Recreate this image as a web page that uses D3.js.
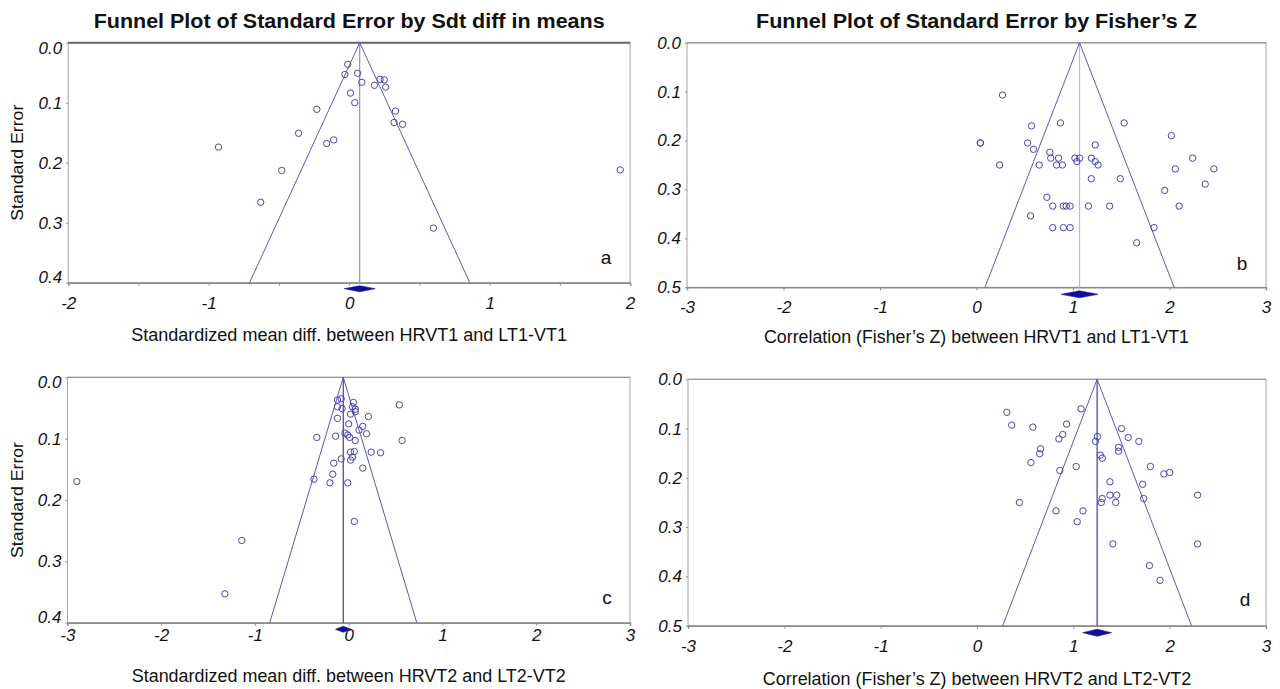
<!DOCTYPE html>
<html>
<head>
<meta charset="utf-8">
<title>Funnel plots</title>
<script src="https://d3js.org/d3.v7.min.js"></script>
<style>
  body { margin: 0; background: #fff; }
  text { font-family: "Liberation Sans", Arial, sans-serif; }
</style>
</head>
<body>
<div class="chart"></div>
<script>
// a: standardized mean diff between HRVT1 and LT1-VT1
let aEffect = [-0.01, -0.03, 0.06, 0.09, 0.22, 0.25, 0.18, 0.26, 0.01, 0.04, -0.23, 0.33, 0.32, 0.38,
               -0.36, -0.11, -0.16, -0.48, -0.93, 1.93, -0.63, 0.60];
let aSE = [0.036, 0.053, 0.051, 0.066, 0.061, 0.062, 0.071, 0.074, 0.084, 0.100, 0.111, 0.114, 0.133, 0.136,
           0.151, 0.162, 0.168, 0.213, 0.174, 0.212, 0.266, 0.309];

// b: Fisher's Z between HRVT1 and LT1-VT1
let bEffect = [0.27, 0.57, 0.87, 1.53, 2.02, 0.04, 0.04, 0.53, 0.59, 1.23, 0.76, 0.77, 0.85, 1.02, 1.07, 1.04,
               1.19, 1.23, 1.26, 2.24, 0.24, 0.65, 0.83, 0.89, 2.06, 2.46, 1.19, 1.49, 2.37, 1.95,
               0.73, 0.79, 0.90, 0.93, 0.97, 1.16, 1.38, 2.10, 0.56, 0.79, 0.90, 0.97, 1.84, 1.66];
let bSE = [0.107, 0.170, 0.164, 0.164, 0.190, 0.205, 0.205, 0.205, 0.218, 0.209, 0.224, 0.236, 0.236, 0.236, 0.236, 0.243,
           0.236, 0.243, 0.250, 0.236, 0.250, 0.250, 0.250, 0.250, 0.258, 0.258, 0.278, 0.278, 0.289, 0.302,
           0.316, 0.334, 0.334, 0.334, 0.334, 0.334, 0.334, 0.334, 0.354, 0.378, 0.378, 0.378, 0.378, 0.409];

// c: standardized mean diff between HRVT2 and LT2-VT2
let cEffect = [-0.12, -0.08, -0.12, -0.07, 0.05, 0.04, 0.07, 0.07, 0.02, 0.54, 0.21, -0.12, 0.00, 0.15,
               0.11, 0.19, -0.04, -0.14, -0.34, -0.01, 0.01, 0.07, 0.57, 0.24, 0.34, 0.02, 0.06, 0.04,
               0.02, -0.08, -0.16, 0.15, -0.17, -0.37, -0.20, -0.01, 0.06, -2.90, -1.14, -1.32];
let cSE = [0.037, 0.035, 0.048, 0.051, 0.041, 0.048, 0.052, 0.056, 0.060, 0.045, 0.064, 0.067, 0.076, 0.080,
           0.086, 0.092, 0.091, 0.096, 0.098, 0.094, 0.098, 0.103, 0.103, 0.122, 0.123, 0.122, 0.121, 0.130,
           0.135, 0.133, 0.140, 0.148, 0.158, 0.166, 0.172, 0.172, 0.235, 0.170, 0.266, 0.353];

// d: Fisher's Z between HRVT2 and LT2-VT2
let dEffect = [0.31, 1.08, 0.36, 0.58, 0.93, 0.89, 0.85, 1.25, 1.23, 1.50, 1.57, 1.68, 0.66, 0.65, 1.47, 1.47,
               0.56, 1.28, 1.30, 1.03, 0.86, 1.80, 1.94, 2.00, 1.38, 1.72, 2.29, 1.38, 1.45, 1.30, 1.73,
               1.29, 1.44, 0.44, 0.82, 1.10, 1.04, 1.41, 2.29, 1.79, 1.90];
let dSE = [0.067, 0.060, 0.093, 0.097, 0.091, 0.112, 0.121, 0.116, 0.126, 0.100, 0.118, 0.126, 0.141, 0.151, 0.138, 0.146,
           0.169, 0.154, 0.160, 0.177, 0.185, 0.177, 0.192, 0.189, 0.208, 0.213, 0.235, 0.235, 0.235, 0.242, 0.242,
           0.250, 0.250, 0.250, 0.267, 0.267, 0.289, 0.334, 0.334, 0.378, 0.408];

// pooled estimate and its half-width (diamond) for each panel
let pooled = [0.075, 1.068, -0.058, 1.247];
let pooledHalf = [0.11, 0.19, 0.083, 0.15];

let titles = ["Funnel Plot of Standard Error by Sdt diff in means", "Funnel Plot of Standard Error by Fisher\u2019s Z"];
let xTitles = ["Standardized mean diff. between HRVT1 and LT1-VT1",
               "Correlation (Fisher\u2019s Z) between HRVT1 and LT1-VT1",
               "Standardized mean diff. between HRVT2 and LT2-VT2",
               "Correlation (Fisher\u2019s Z) between HRVT2 and LT2-VT2"];
let letters = ["a", "b", "c", "d"];
let xTicksA = [-2, -1, 0, 1, 2];
let xTicks = [-3, -2, -1, 0, 1, 2, 3];
let yTicks4 = [0, 0.1, 0.2, 0.3, 0.4];
let yTicks5 = [0, 0.1, 0.2, 0.3, 0.4, 0.5];

let width = 1280, height = 689;
let svg = d3.select(".chart").append("svg")
    .attr("width", width)
    .attr("height", height);

let blue = "#4747ad";
let intFmt = function(d) { return String(d); };   // plain hyphen minus like the original

let panels = [
    {eff: aEffect, se: aSE, x0: 68.2, x1: 630.1, y0: 42.7, y1: 282.7, xd: [-2, 2], yd: [0, 0.4],
     xt: xTicksA, minor: d3.range(-2, 2.01, 0.5), yt: yTicks4, clamp: true, labY: 20, diaY: 6, diaH: 3,
     meanColor: "#8e8ec8", topColor: "#666", topW: 2, title: titles[0], titleW: 511, xTitleY: 335, xTitleW: 436,
     seTitle: true, letX: 606, letY: 257},
    {eff: bEffect, se: bSE, x0: 687, x1: 1266, y0: 42.7, y1: 287.3, xd: [-3, 3], yd: [0, 0.5],
     xt: xTicks, minor: xTicks, yt: yTicks5, clamp: false, labY: 20, diaY: 7, diaH: 3.5,
     meanColor: "#b9b9d9", topColor: "#999", topW: 1.5, title: titles[1], titleW: 441, xTitleY: 337, xTitleW: 425,
     seTitle: false, letX: 1242, letY: 263},
    {eff: cEffect, se: cSE, x0: 67.4, x1: 630, y0: 377.3, y1: 622.7, xd: [-3, 3], yd: [0, 0.4],
     xt: xTicks, minor: xTicks, yt: yTicks4, clamp: true, labY: 12, diaY: 6.6, diaH: 3,
     meanColor: "#3c3cb0", topColor: "#999", topW: 1.2, title: null, xTitleY: 676, xTitleW: 434,
     seTitle: true, letX: 607, letY: 597},
    {eff: dEffect, se: dSE, x0: 688, x1: 1266, y0: 379.3, y1: 625.7, xd: [-3, 3], yd: [0, 0.5],
     xt: xTicks, minor: xTicks, yt: yTicks5, clamp: false, labY: 20, diaY: 7, diaH: 3.5,
     meanColor: "#3c3cb0", topColor: "#999", topW: 1.2, title: null, xTitleY: 679, xTitleW: 428.5,
     seTitle: false, letX: 1245, letY: 599}
];

panels.forEach(function(p, i) {
    let g = svg.append("g").attr("class", "panel-" + letters[i]);

    let x = d3.scaleLinear().domain(p.xd).range([p.x0, p.x1]);
    let y = d3.scaleLinear().domain(p.yd).range([p.y0, p.y1]);

    // frame
    g.append("rect")
        .attr("x", p.x0).attr("y", p.y0)
        .attr("width", p.x1 - p.x0).attr("height", p.y1 - p.y0)
        .style("fill", "none").style("stroke", "#a3a3a3").style("stroke-width", 1);
    g.append("line")
        .attr("x1", p.x0).attr("x2", p.x1).attr("y1", p.y0).attr("y2", p.y0)
        .style("stroke", p.topColor).style("stroke-width", p.topW);

    // x axis with small outward ticks
    let xAxis = g.append("g")
        .attr("transform", "translate(0," + p.y1 + ")")
        .call(d3.axisBottom(x).tickValues(p.minor).tickSize(3).tickFormat(""));
    xAxis.select(".domain").style("stroke", "#8c8c8c").style("stroke-width", 1.5);
    xAxis.selectAll(".tick line").style("stroke", "#8c8c8c");

    let xLab = g.append("g")
        .attr("transform", "translate(0," + p.y1 + ")")
        .call(d3.axisBottom(x).tickValues(p.xt).tickSize(0).tickFormat(intFmt));
    xLab.select(".domain").remove();
    xLab.selectAll("text")
        .attr("y", p.labY).attr("dy", "0.35em")
        .style("font-family", "'Liberation Sans', Arial, sans-serif")
        .style("font-style", "italic").style("font-size", "17px").style("fill", "#111");

    // y axis labels with tiny outward ticks
    let yLab = g.append("g")
        .attr("transform", "translate(" + p.x0 + ",0)")
        .call(d3.axisLeft(y).tickValues(p.yt).tickSize(2).tickPadding(4).tickFormat(d3.format(".1f")));
    yLab.select(".domain").remove();
    yLab.selectAll(".tick line").style("stroke", "#8c8c8c");
    yLab.selectAll("text")
        .style("font-family", "'Liberation Sans', Arial, sans-serif")
        .style("font-style", "italic").style("font-size", "17px").style("fill", "#111");
    if (p.clamp) {
        let n = p.yt.length;
        yLab.selectAll(".tick").filter(function(d, j) { return j === 0; })
            .select("text").attr("y", 5);
        yLab.selectAll(".tick").filter(function(d, j) { return j === n - 1; })
            .select("text").attr("y", -6);
    }

    // funnel
    let m = pooled[i];
    let seMax = p.yd[1];
    g.append("line")
        .attr("x1", x(m)).attr("x2", x(m)).attr("y1", y(0)).attr("y2", y(seMax))
        .style("stroke", p.meanColor).style("stroke-width", 1.2);
    g.append("path")
        .attr("d", d3.line()([[x(m - 1.96 * seMax), y(seMax)], [x(m), y(0)], [x(m + 1.96 * seMax), y(seMax)]]))
        .style("fill", "none").style("stroke", "#5b5bb5").style("stroke-width", 1);

    // studies
    g.selectAll("circle")
        .data(p.eff.map(function(d, j) { return [d, p.se[j]]; }))
        .enter()
        .append("circle")
        .attr("cx", function(d) { return x(d[0]); })
        .attr("cy", function(d) { return y(d[1]); })
        .attr("r", 3.2)
        .style("fill", "none").style("stroke", blue).style("stroke-width", 1);

    // pooled diamond
    let dy = p.y1 + p.diaY;
    let h = pooledHalf[i];
    g.append("path")
        .attr("d", d3.line()([[x(m - h), dy], [x(m), dy - p.diaH], [x(m + h), dy], [x(m), dy + p.diaH]]) + "Z")
        .style("fill", "#10109a").style("stroke", "#10109a").style("stroke-width", 0.6);

    // texts
    let cx = (p.x0 + p.x1) / 2;
    if (p.title) {
        g.append("text")
            .attr("x", cx).attr("y", 28)
            .attr("text-anchor", "middle")
            .attr("textLength", p.titleW).attr("lengthAdjust", "spacingAndGlyphs")
            .style("font-weight", "bold").style("font-size", "20px").style("fill", "#111")
            .text(p.title);
    }
    g.append("text")
        .attr("x", cx).attr("y", p.xTitleY + 6)
        .attr("text-anchor", "middle")
        .attr("textLength", p.xTitleW).attr("lengthAdjust", "spacingAndGlyphs")
        .style("font-size", "17.5px").style("fill", "#111")
        .text(xTitles[i]);
    if (p.seTitle) {
        let ym = (p.y0 + p.y1) / 2;
        g.append("text")
            .attr("transform", "translate(23," + ym + ") rotate(-90)")
            .attr("text-anchor", "middle")
            .attr("textLength", 116).attr("lengthAdjust", "spacingAndGlyphs")
            .style("font-size", "17px").style("fill", "#111")
            .text("Standard Error");
    }
    g.append("text")
        .attr("x", p.letX).attr("y", p.letY).attr("dy", "0.35em")
        .attr("text-anchor", "middle")
        .style("font-size", "19px").style("fill", "#111")
        .text(letters[i]);
});
</script>
</body>
</html>
